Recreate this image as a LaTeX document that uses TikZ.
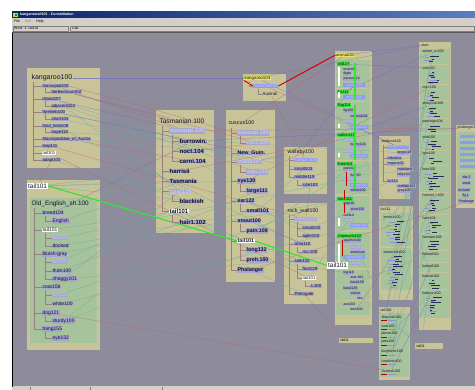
\documentclass[tikz,border=0pt]{standalone}
\usepackage{fontspec}
\setmainfont{Liberation Sans}
\pgfdeclarelayer{bg}
\pgfdeclarelayer{lines}
\pgfsetlayers{bg,lines,main}
\definecolor{canvas}{HTML}{8E8B9B}
\definecolor{khaki}{HTML}{C8C498}
\definecolor{gbox}{HTML}{A6C39B}
\definecolor{ihl}{HTML}{A5A5CD}
\definecolor{fadet}{HTML}{C8C8F4}
\definecolor{bhl}{HTML}{8C9BF0}
\definecolor{yhl}{HTML}{E6E65A}
\definecolor{ghl}{HTML}{33E633}
\definecolor{dtext}{HTML}{141428}
\definecolor{treec}{HTML}{9A7E7E}
\definecolor{lred}{HTML}{B86464}
\definecolor{lteal}{HTML}{5FA8A8}
\definecolor{lblue}{HTML}{6E6EC0}
\definecolor{lgreen}{HTML}{6CB48C}
\definecolor{winbg}{HTML}{D4D0C8}
\definecolor{navy}{HTML}{0A246A}
\definecolor{navyr}{HTML}{5A7EC0}
\definecolor{barc}{HTML}{2A2A62}
\definecolor{barl}{HTML}{9090D8}
\tikzset{
 itm/.style={anchor=west,inner xsep=0.4pt,inner ysep=0.25pt,fill=ihl,text=dtext},
 ttl/.style={anchor=west,inner sep=0.3pt,text=dtext},
 fd/.style={text=fadet},
 wh/.style={fill=white},
 bh/.style={fill=bhl},
 yh/.style={fill=yhl},
 gh/.style={fill=ghl},
 fk/.style={font=\fontsize{4.3}{5}\selectfont},
 fkt/.style={font=\fontsize{7}{8}\selectfont},
 fo/.style={font=\fontsize{5}{6}\selectfont},
 fot/.style={font=\fontsize{6.4}{7}\selectfont},
 ft/.style={font=\bfseries\fontsize{6.0}{7}\selectfont},
 ftt/.style={font=\fontsize{6.6}{7}\selectfont},
 fc/.style={font=\bfseries\fontsize{5.3}{6}\selectfont},
 fct/.style={font=\fontsize{5.4}{6}\selectfont},
 fs/.style={font=\fontsize{4.4}{5}\selectfont},
 fst/.style={font=\fontsize{5.3}{6}\selectfont},
 fa/.style={font=\fontsize{3.5}{4}\selectfont},
 fag/.style={font=\fontsize{4}{4.5}\selectfont},
 fbig/.style={font=\fontsize{6.4}{7}\selectfont},
 fw/.style={font=\fontsize{3.6}{4}\selectfont},
 tree/.style={draw=treec,line width=0.35pt},
 lr/.style={draw=lred,line width=0.3pt,draw opacity=0.75},
 lt/.style={draw=lteal,line width=0.3pt,draw opacity=0.75},
 lb/.style={draw=lblue,line width=0.3pt,draw opacity=0.75},
 lg/.style={draw=lgreen,line width=0.3pt,draw opacity=0.75},
}
\newcommand{\mybars}[4]{\foreach \i in {0,...,#3}{\pgfmathsetmacro{\yy}{#2+2.6*\i}\pgfmathsetmacro{\ww}{2+#4*rnd}\pgfmathsetmacro{\xx}{#1+5*rnd}\fill[barc] (\xx,\yy) rectangle ++(\ww,1.1);}}
\newcommand{\mylbars}[4]{\foreach \i in {0,...,#3}{\pgfmathsetmacro{\yy}{#2+3.3*\i}\pgfmathsetmacro{\ww}{2+#4*rnd}\pgfmathsetmacro{\xx}{#1+6*rnd}\fill[barl] (\xx,\yy) rectangle ++(\ww,0.9);}}
\begin{document}
\begin{tikzpicture}[x=1pt,y=-1pt]
\useasboundingbox (0,0) rectangle (475,390);
\pgfmathsetseed{11}
\begin{pgfonlayer}{bg}
\fill[white] (0,0) rectangle (475,390);
\fill[winbg] (12,12) rectangle (475,390);
\shade[left color=navy,right color=navyr] (12,12) rectangle (475,18);
\fill[yellow!80!green] (13,13) rectangle (18,17.5);
\fill[green!60!black] (15,14) rectangle (17,16.5);
\draw[gray,line width=0.3pt] (13,26) rectangle (68,31.3);
\draw[gray,line width=0.3pt] (70,26) rectangle (474,31.3);
\fill[canvas] (12,32.5) rectangle (475,386.5);
\draw[black,line width=1pt] (12.5,32) -- (12.5,387);
\draw[gray!70!black,line width=0.5pt] (12,32.5) -- (475,32.5);
\draw[gray,line width=0.3pt] (30,387) -- (30,390) (90,387) -- (90,390) (162,387) -- (162,390);
% boxes
\fill[khaki] (27,68) rectangle (100,168);
\fill[khaki] (27,180) rectangle (100,350);
\fill[gbox] (30,198) rectangle (97,343);
\fill[khaki] (156,110) rectangle (214,233);
\fill[khaki] (226,110) rectangle (275,282);
\fill[khaki] (243,74) rectangle (286,101);
\fill[khaki] (284,147) rectangle (327,194);
\fill[khaki] (284,203) rectangle (327,304);
\fill[khaki] (335,51) rectangle (372,325);
\fill[gbox] (336,60) rectangle (370,88);
\fill[gbox] (336,89) rectangle (370,101);
\fill[gbox] (336,102) rectangle (370,131);
\fill[gbox] (336,132) rectangle (370,160);
\fill[gbox] (336,161) rectangle (370,194);
\fill[gbox] (336,196) rectangle (370,230);
\fill[gbox] (336,232) rectangle (370,268);
\fill[gbox] (336,270) rectangle (370,300);
\fill[gbox] (336,301) rectangle (370,315);
\fill[khaki] (379,136) rectangle (410,199);
\fill[khaki] (379,206) rectangle (413,300);
\fill[gbox] (381,213) rectangle (411,246);
\fill[gbox] (381,248) rectangle (411,290);
\fill[khaki] (379,307) rectangle (410,380);
\fill[gbox] (380,313) rectangle (409,377);
\fill[khaki] (419,42) rectangle (451,330);
\foreach \a/\b in {49/64,65/84,85/100,101/118,119/133,134/150,151/165,166/192,193/214,215/233,234/250,251/262,263/272,273/289,290/318}{\fill[gbox] (420,\a) rectangle (450,\b);}
\fill[khaki] (456,125) rectangle (476,208);
\fill[gbox] (457,132) rectangle (476,170);
\fill[gbox] (457,172) rectangle (476,200);
\fill[khaki] (339,338) rectangle (373,343);
\fill[khaki] (415,343) rectangle (443,349);
\end{pgfonlayer}
% window texts
\node[anchor=west,inner sep=0pt,text=white,font=\bfseries\fontsize{3.6}{4}\selectfont] (wtitle) at (20,15) {kangarootail101 - Constellation};
\node[anchor=west,inner sep=0pt,font=\fontsize{3.6}{4}\selectfont] (mfile) at (14,21.5) {File};
\node[anchor=west,inner sep=0pt,text=gray,font=\fontsize{3.6}{4}\selectfont] (medit) at (25,21.5) {Edit};
\node[anchor=west,inner sep=0pt,font=\fontsize{3.6}{4}\selectfont] (mhelp) at (36,21.5) {Help};
\node[anchor=west,inner sep=0pt,font=\fontsize{3.4}{4}\selectfont] (sword) at (14,28.7) {Word: 1: tail101};
\node[anchor=west,inner sep=0pt,font=\fontsize{3.4}{4}\selectfont] (slink) at (72,28.7) {Link:};
% kangaroo100
\node[ttl,fkt] (kT) at (31,78) {kangaroo100};
\node[itm,fk] (k1) at (42,86) {marsupial100};
\node[itm,fk] (k2) at (51,92) {herbivorous102};
\node[itm,fk] (k3) at (42,99) {island107};
\node[itm,fk] (k4) at (51,106) {adjacent103};
\node[itm,fk] (k5) at (42,112) {forelimb100};
\node[itm,fk] (k6) at (51,119) {short104};
\node[itm,fk] (k7) at (42,126) {hind\_limb108};
\node[itm,fk] (k8) at (51,132) {large118};
\node[itm,fk] (k9) at (42,139) {Macropodidae\_of\_Austra};
\node[itm,fk] (k10) at (42,146) {leap111};
\node[itm,fk,wh] (k11) at (42,153) {tail101};
\node[itm,fk] (k12) at (42,160) {adapt104};
\draw[tree] (33,82) -- (33,160);
\foreach \y in {86,99,112,126,139,146,153,160} {\draw[tree] (33,\y) -- (42,\y);}
\foreach \a/\b in {86/92,99/106,112/119,126/132} {\draw[tree] (45,\a+2) -- (45,\b) -- (51,\b);}
% Old English
\node[itm,fbig,wh,inner xsep=1pt,inner ysep=1pt] (ltail) at (27,186) {tail101};
\node[ttl,fot] (oT) at (31,204) {Old\_English\_sh.100};
\node[itm,fo] (o1) at (42,213) {breed104};
\node[itm,fo] (o2) at (52,221) {English};
\node[itm,fo,wh] (o3) at (42,230) {tail101};
\node[itm,fo,fd] (o4) at (52,238) {fur113};
\node[itm,fo] (o5) at (52,246) {docked};
\node[itm,fo] (o6) at (42,254) {bluish-gray};
\node[itm,fo,fd] (o7) at (52,262) {fur113};
\node[itm,fo] (o8) at (52,271) {thick100};
\node[itm,fo] (o9) at (52,279) {shaggy101};
\node[itm,fo] (o10) at (42,287) {coat108};
\node[itm,fo,fd] (o11) at (52,295) {fur113};
\node[itm,fo] (o12) at (52,304) {white100};
\node[itm,fo] (o13) at (42,313) {dog121};
\node[itm,fo] (o14) at (52,321) {sturdy100};
\node[itm,fo] (o15) at (42,329) {hang155};
\node[itm,fo] (o16) at (52,338) {eye132};
\draw[tree] (34,208) -- (34,329);
\foreach \y in {213,230,254,287,313,329} {\draw[tree] (34,\y) -- (42,\y);}
\foreach \a/\b in {213/221,230/246,254/279,287/304,313/321,329/338} {\draw[tree] (45,\a+3) -- (45,\b);}
\foreach \y in {221,238,246,262,271,279,295,304,321,338} {\draw[tree] (45,\y) -- (52,\y);}
% Tasmanian
\node[ttl,ftt] (tT) at (159,121) {Tasmanian.100};
\node[itm,ft,fd] (t1) at (169,131) {marsupi.100};
\node[itm,ft] (t2) at (179,141) {burrowin.};
\node[itm,ft] (t3) at (179,151) {noct.104};
\node[itm,ft] (t4) at (179,161) {carni.104};
\node[itm,ft] (t5) at (169,171) {harrisii};
\node[itm,ft] (t6) at (169,181) {Tasmania};
\node[itm,ft,fd] (t7) at (169,191) {coat108};
\node[itm,ft] (t8) at (179,201) {blackish};
\node[itm,ft,wh] (t9) at (169,211) {tail101};
\node[itm,ft] (t10) at (179,222) {hair1.102};
\draw[tree] (162,126) -- (162,211);
\foreach \y in {131,171,181,191,211} {\draw[tree] (162,\y) -- (169,\y);}
\foreach \a/\b in {131/161,191/201,211/222} {\draw[tree] (172,\a+4) -- (172,\b);}
\foreach \y in {141,151,161,201,222} {\draw[tree] (172,\y) -- (179,\y);}
% cuscus
\node[ttl,fct] (cT) at (228,123) {cuscus100};
\node[itm,fc,fd] (c1) at (237,133) {marsupi.100};
\node[itm,fc,fd] (c2) at (246,143) {noct.104};
\node[itm,fc] (c3) at (237,153) {New\_Guin.};
\node[itm,fc,fd] (c4) at (237,162) {island107};
\node[itm,fc,fd] (c5) at (246,172) {adja.103};
\node[itm,fc] (c6) at (237,181) {eye130};
\node[itm,fc] (c7) at (246,191) {large111};
\node[itm,fc] (c8) at (237,201) {ear122};
\node[itm,fc] (c9) at (246,211) {small101};
\node[itm,fc] (c10) at (237,221) {snout100};
\node[itm,fc] (c11) at (246,231) {pain.108};
\node[itm,fc,wh] (c12) at (237,241) {tail101};
\node[itm,fc] (c13) at (246,250) {long132};
\node[itm,fc] (c14) at (246,260) {preh.100};
\node[itm,fc] (c15) at (237,270) {Phalanger};
\draw[tree] (231,128) -- (231,270);
\foreach \y in {133,153,162,181,201,221,241,270} {\draw[tree] (231,\y) -- (237,\y);}
\foreach \a/\b in {133/143,162/172,181/191,201/211,221/231,241/260} {\draw[tree] (240,\a+3) -- (240,\b);}
\foreach \y in {143,172,191,211,231,250,260} {\draw[tree] (240,\y) -- (246,\y);}
% kangaroo103
\node[itm,fs,yh] (qT) at (244,78) {kangaroo103};
\node[itm,fs,bh,fd,minimum width=24pt] (q1) at (253,86) {mammal100};
\node[itm,fs,fill=none] (q2) at (262,94) {Australi.};
\draw[tree] (249,82) -- (249,86) -- (253,86);
\draw[tree] (258,89) -- (258,94) -- (262,94);
% wallaby
\node[ttl,fst] (wT) at (287,152) {wallaby100};
\node[itm,fs,bh,fd] (w1) at (294,160) {kangar.103};
\node[itm,fs] (w2) at (294,169) {small103};
\node[itm,fs] (w3) at (294,177) {middle119};
\node[itm,fs] (w4) at (302,185) {size103};
\draw[tree] (289,156) -- (289,177);
\foreach \y in {160,169,177} {\draw[tree] (289,\y) -- (294,\y);}
\draw[tree] (297,180) -- (297,185) -- (302,185);
% rock wallaby
\node[ttl,fst] (rT) at (287,211) {rock\_wall100};
\node[itm,fs,fd] (r1) at (294,219) {wallaby100};
\node[itm,fs] (r2) at (302,228) {small100};
\node[itm,fs] (r3) at (302,236) {agile103};
\node[itm,fs] (r4) at (294,244) {area110};
\node[itm,fs] (r5) at (302,252) {roc.100};
\node[itm,fs] (r6) at (294,261) {sole110};
\node[itm,fs] (r7) at (302,269) {foot129};
\node[itm,fs,wh] (r8) at (302,278) {tail101};
\node[itm,fs] (r9) at (310,286) {s.100};
\node[itm,fs] (r10) at (294,294) {Petrogale};
\draw[tree] (289,215) -- (289,294);
\foreach \y in {219,244,261,294} {\draw[tree] (289,\y) -- (294,\y);}
\foreach \a/\b in {219/236,244/252,261/278} {\draw[tree] (297,\a+3) -- (297,\b);}
\foreach \y in {228,236,252,269,278} {\draw[tree] (297,\y) -- (302,\y);}
\draw[tree] (305,281) -- (305,286) -- (310,286);
\node[itm,fbig,wh,inner xsep=1pt,inner ysep=1pt] (rbig) at (327,265.5) {tail101};
% animal100
\node[itm,fag,yh] (a0) at (335.5,55) {animal100};
\node[itm,fag,gh] (a1) at (337,64) {tail127};
\node[itm,fa] (a2) at (343,69) {trust105};
\node[itm,fa] (a3) at (343,74) {flight};
\node[itm,fa] (a4) at (343,79) {person112};
\node[itm,fa,bh,fd,minimum width=22pt] (a5) at (343,85) {animal100};
\node[itm,fag,gh] (a6) at (337,92) {fur111};
\node[itm,fa,bh,fd,minimum width=22pt] (a7) at (343,97) {animal100};
\node[itm,fag,gh] (a8) at (337,105) {flag114};
\node[itm,fa] (a9) at (343,111) {fig109};
\node[itm,fa] (a10) at (350,116) {colored101};
\node[itm,fa,fd] (a11) at (343,121) {tail101};
\node[itm,fa,bh,fd,minimum width=18pt] (a12) at (350,127) {animal100};
\node[itm,fag,gh] (a13) at (337,135) {switch115};
\node[itm,fa,fd] (a14) at (343,140) {tail101};
\node[itm,fa] (a15) at (350,145) {bushy100};
\node[itm,fa,fd] (a16) at (343,151) {tail101};
\node[itm,fa,bh,fd,minimum width=18pt] (a17) at (350,156) {animal100};
\node[itm,fag,gh] (a18) at (337,164) {fluke114};
\node[itm,fa] (a19) at (343,169) {part104};
\node[itm,fa] (a20) at (350,175) {fur150};
\node[itm,fa,fd] (a21) at (343,179) {tail101};
\node[itm,fa,bh,fd,minimum width=18pt] (a22) at (350,185) {animal100};
\node[itm,fa] (a23) at (350,190) {whale100};
\node[itm,fag,gh] (a24) at (337,199) {dock111};
\node[itm,fa] (a25) at (343,204) {clip110};
\node[itm,fa] (a26) at (350,209) {short120};
\node[itm,fa] (a27) at (343,215) {cut114};
\node[itm,fa,fd] (a28) at (343,220) {tail101};
\node[itm,fa,bh,fd,minimum width=18pt] (a29) at (350,225) {animal100};
\node[itm,fag,gh] (a30) at (337,236) {chipmunk102};
\node[itm,fa] (a31) at (343,241) {squirrel100};
\node[itm,fa,fd] (a32) at (350,247) {tail101};
\node[itm,fa] (a33) at (350,252) {american};
\node[itm,fa,bh,fd,minimum width=22pt] (a34) at (343,257) {animal100};
\node[itm,fa,fd] (a35) at (350,263) {tail101};
\node[itm,fa] (a36) at (343,273) {leg119};
\node[itm,fa] (a37) at (350,277) {ane.101};
\node[itm,fa] (a38) at (350,282) {back159};
\node[itm,fa] (a39) at (343,288) {band129};
\node[itm,fa] (a40) at (350,293) {colour};
\node[itm,fa] (a41) at (357,298) {tex};
\node[itm,fa] (a42) at (343,304) {ace103};
\node[itm,fa] (a43) at (350,309) {tree100};
\draw[white,line width=1.2pt] (339,67) -- (339,86) (339,92) -- (339,98) (339,124) -- (339,128) (339,153) -- (339,157) (339,218) -- (339,226) (339,244) -- (339,262);
\draw[ghl,line width=1.4pt] (355,63) -- (355,100) (355,105) -- (355,160) (355,164) -- (355,189);
\draw[red!80!black,line width=1pt] (346,172) -- (346,186) (344,190) -- (344,199) (344,203) -- (344,213) (342,240) -- (342,256);
% wallaroo
\node[ttl,fw] (vT) at (381,141) {wallaroo100};
\node[itm,fw,bh,fd,minimum width=21pt] (v1) at (387,147) {kangaroo103};
\node[itm,fw] (v2) at (397,153) {large118};
\node[itm,fw] (v3) at (387,158) {robustus};
\node[itm,fw] (v4) at (387,164) {region100};
\node[itm,fw] (v5) at (397,169) {mainland};
\node[itm,fw] (v6) at (397,175) {hilly103};
\node[itm,fw] (v7) at (387,181) {fur113};
\node[itm,fw] (v8) at (397,186) {reddish102};
\node[itm,fw] (v9) at (397,191) {grey100};
\draw[tree] (383,145) -- (383,181);
\foreach \y in {147,158,164,181} {\draw[tree] (383,\y) -- (387,\y);}
% fur112
\node[ttl,fw] (fT) at (380,209.5) {fur112};
\node[ttl,fw] (fe) at (383,217) {ermine100};
\node[ttl,fw] (fw) at (383,252) {wolverine100};
\mybars{392}{221}{8}{8}
\mybars{392}{256}{11}{8}
\mylbars{386}{222}{6}{8}
\mylbars{386}{257}{9}{8}
% tail100
\node[ttl,fw] (lT) at (380,310) {tail100};
\node[ttl,fw] (l1) at (381,317) {short-tail100};
\node[ttl,fw] (l2) at (381,326) {coat100};
\node[ttl,fw] (l3) at (381,334) {plover100};
\node[ttl,fw] (l4) at (381,342) {pitta100};
\node[ttl,fw] (l5) at (381,352) {kingfisher100};
\node[ttl,fw] (l6) at (381,361) {hawfinch100};
\node[ttl,fw] (l7) at (381,371) {Scottish100};
\foreach \y in {320.5,329.5,337.5,345.5,355.5,364.5,374.5} {\fill[red!70!black] (381,\y) rectangle ++(6,0.9); \fill[barl] (388,\y) rectangle ++(8,0.9);}
% dom column
\node[ttl,fw] (dT) at (421,45) {dom};
\node[ttl,fw] (d1) at (422,52) {winter\_w.100};
\node[ttl,fw] (d2) at (422,68) {vole101};
\node[ttl,fw] (d3) at (422,88) {top-r100};
\node[ttl,fw] (d4) at (422,104) {sharp-tail100};
\node[ttl,fw] (d5) at (422,122) {partridge104};
\node[ttl,fw] (d6) at (422,137) {snib100};
\node[ttl,fw] (d7) at (422,154) {lynx100};
\node[ttl,fw] (d8) at (422,169) {loon100};
\node[ttl,fw] (d9) at (422,196) {horned\_t.100};
\node[ttl,fw] (d10) at (422,218) {hare104};
\node[ttl,fw] (d11) at (422,237) {hamster108};
\node[ttl,fw] (d12) at (422,254) {bobtail101};
\node[ttl,fw] (d13) at (422,266) {bobtail108};
\node[ttl,fw] (d14) at (422,276) {bobcat100};
\node[ttl,fw] (d15) at (422,293) {baboon100};
\foreach \s/\n in {56/2,72/4,92/3,108/3,126/2,141/3,158/2,173/6,200/4,222/4,241/3,280/3,297/6} {\mybars{428}{\s}{\n}{9}}
\foreach \s/\n in {57/1,73/3,93/2,109/2,142/2,174/4,201/3,223/3,298/4} {\mylbars{424}{\s}{\n}{6}}
% phalanger
\node[ttl,fw] (pT) at (457,128) {phalanger1};
\foreach \y in {135,141,147,153,159,165} {\fill[bhl] (460,\y) rectangle (476,\y+2.8);}
\node[itm,fw] (p1) at (462,177) {dar.1};
\node[itm,fw] (p2) at (462,183) {smal};
\node[itm,fw] (p3) at (458,190) {include};
\node[itm,fw] (p4) at (462,196) {fly.1};
\node[itm,fw] (p5) at (458,202) {Phalange};
% small labels
\node[anchor=west,inner sep=0.3pt,fw] (s1) at (340,340.5) {tail11};
\node[anchor=west,inner sep=0.3pt,fw] (s2) at (416,346) {tail11};
% connectors
\begin{pgfonlayer}{lines}
\draw[lr] (k1) -- (t1);
\draw[lr] (k1.east) -- (c1.west);
\draw[lr] (k2) -- (c2);
\draw[lr] (k9) -- (t4);
\draw[lr] (k11) -- (r8);
\draw[lr] (k10) -- (r1);
\draw[lr] (o13) -- (l7);
\draw[lr] (t1) -- (pT);
\draw[lr] (t3) -- (c2);
\draw[lr] (q2) -- (w1);
\draw[lr] (q1) -- (v1);
\draw[lr] (c15) -- (p5);
\draw[lr] (cT) -- (a0);
\draw[lr] (k12) -- (ltail);
\draw[lr] (c6) -- (d3);
\draw[lr] (t5) -- (d5);
\draw[lr] (r10) -- (s1);
\draw[lr] (a43) -- (d9);
\draw[lr] (w4) -- (r1);
\draw[lt] (k3) -- (c4);
\draw[lt] (k4) -- (c5);
\draw[lt] (k8) -- (v2);
\draw[lt] (k6) -- (w2);
\draw[lt] (k5) -- (t2);
\draw[lt] (k7) -- (r4);
\draw[lt] (k9) -- (c3);
\draw[lt] (k4) -- (t7);
\draw[lt] (o3) -- (t9);
\draw[lt] (o8) -- (c7);
\draw[lt] (o10) -- (t7);
\draw[lt] (o11) -- (v7);
\draw[lt] (o12) -- (fe);
\draw[lt] (o9) -- (fw);
\draw[lt] (o2) -- (t6);
\draw[lt] (o5) -- (c9);
\draw[lt] (o4) -- (a21);
\draw[lt] (o7) -- (t8);
\draw[lt] (ltail) -- (t5);
\draw[lt] (ltail) -- (t6);
\draw[lt] (ltail) -- (c6);
\draw[lt] (ltail) -- (t8);
\draw[lt] (k12) -- (t8);
\draw[lt] (t9) -- (c12);
\draw[lt] (c9) -- (r2);
\draw[lt] (c9) -- (w2);
\draw[lt] (c14) -- (a36);
\draw[lt] (c11) -- (a19);
\draw[lt] (r8) -- (a28);
\draw[lt] (r2) -- (a26);
\draw[lt] (w3) -- (d7);
\draw[lt] (r10) -- (c15);
\draw[lt] (d1) -- (lT);
\draw[lt] (d3) -- (fw);
\draw[lt] (d5) -- (l2);
\draw[lt] (d8) -- (fe);
\draw[lt] (d10) -- (l5);
\draw[lt] (d12) -- (fw);
\draw[lt] (d15) -- (l3);
\draw[lt] (d2) -- (l6);
\draw[lt] (d7) -- (fe);
\draw[lt] (d9) -- (l1);
\draw[lt] (d11) -- (l4);
\draw[lt] (d4) -- (fw);
\draw[lt] (v9) -- (d14);
\draw[lt] (a38) -- (d12);
\draw[lt] (a40) -- (s2);
\draw[lt] (d14) -- (s2);
\draw[lt] (a33) -- (l1);
\draw[lt] (o6) -- (a24);
\draw[lt] (t10) -- (r6);
\draw[lb] (kT) -- (qT);
\draw[lb] (k3) -- (t1);
\draw[lb] (qT) -- (dT);
\draw[lb] (a0) -- (dT);
\draw[lb] (k5) -- (c3);
\draw[lb] (o1) -- (t2);
\draw[lb] (wT) -- (a5);
\draw[lb] (v1) -- (qT);
\draw[lb] (c4) -- (wT);
\draw[lb] (k2) -- (tT);
\draw[lb] (a1) -- (d2);
\draw[lb] (a13) -- (d4);
\draw[lb] (a6) -- (d1);
\draw[lb] (c10) -- (r4);
\draw[lb] (t2) -- (pT);
\draw[lb] (d6) -- (lT);
\draw[lb] (d13) -- (l5);
\draw[lb] (d15) -- (l7);
\draw[lg] (o15) -- (t10);
\draw[lg] (o14) -- (c13);
\draw[lg] (c8) -- (r3);
\draw[lg] (t4) -- (c7);
\draw[lg] (a15) -- (fe);
\draw[lg] (a20) -- (d8);
% highlighted path
\draw[ghl,line width=1.2pt] (ltail.east) -- (c12.west);
\draw[ghl,line width=1.2pt] (c12.east) -- (rbig.west);
\draw[ghl,line width=1pt] (rbig.north east) -- (a34.west);
\draw[red!85!black,line width=1pt] (q1.east) -- (a0.west);
\draw[red!85!black,line width=1pt] (qT.south west) -- (q1.west);
\end{pgfonlayer}
\end{tikzpicture}
\end{document}
